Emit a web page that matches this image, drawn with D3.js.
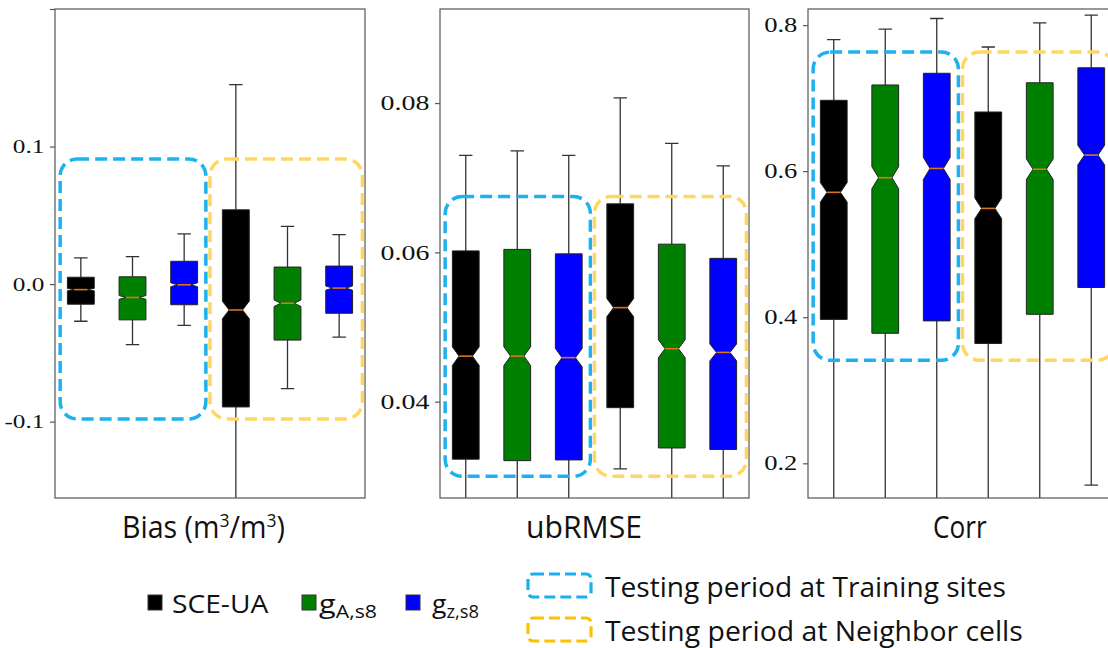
<!DOCTYPE html>
<html lang="en">
<head>
<meta charset="UTF-8">
<title>Bias / ubRMSE / Corr boxplots</title>
<script src="https://d3js.org/d3.v7.min.js"></script>
<style>
    body { margin: 0; background: #fff; }
    .frame { fill: none; stroke: #555; stroke-width: 1.2px; }
    .tick line { stroke: #555; stroke-width: 1.2px; }
    .lbl { font-family: "Open Sans", "Noto Sans", sans-serif; fill: #111; }
</style>
</head>
<body>
<script>
    // box order: SCE-UA, gA,s8, gz,s8 at training sites, then the same at neighbor cells
    const methods = ["SCE-UA", "gA,s8", "gz,s8"];
    const periods = ["Testing period at Training sites", "Testing period at Neighbor cells"];
    const metricNames = ["Bias (m3/m3)", "ubRMSE", "Corr"];

    const biasLo  = [-0.027, -0.044, -0.030, -0.250, -0.076, -0.0385];
    const biasQ1  = [-0.0146, -0.026, -0.015, -0.0893, -0.0407, -0.0212];
    const biasMed = [-0.004, -0.0097, -0.0005, -0.0188, -0.0139, -0.0029];
    const biasQ3  = [0.005, 0.0053, 0.0166, 0.054, 0.0124, 0.0131];
    const biasHi  = [0.019, 0.020, 0.0365, 0.145, 0.042, 0.036];

    const rmseLo  = [0.020, 0.020, 0.020, 0.031, 0.018, 0.018];
    const rmseQ1  = [0.0323, 0.0321, 0.0322, 0.0392, 0.0338, 0.0336];
    const rmseMed = [0.0461, 0.0461, 0.0459, 0.0526, 0.0471, 0.0466];
    const rmseQ3  = [0.0602, 0.0604, 0.0598, 0.0665, 0.0611, 0.0592];
    const rmseHi  = [0.0730, 0.0736, 0.0730, 0.0807, 0.0746, 0.0716];

    const corrLo  = [0.05, 0.05, 0.05, 0.05, 0.05, 0.170];
    const corrQ1  = [0.397, 0.378, 0.395, 0.364, 0.404, 0.4407];
    const corrMed = [0.571, 0.591, 0.6037, 0.549, 0.6027, 0.622];
    const corrQ3  = [0.697, 0.718, 0.734, 0.681, 0.721, 0.7415];
    const corrHi  = [0.780, 0.7945, 0.809, 0.770, 0.803, 0.8137];

    const sampleCount = 1250;   // used for the notch size (matplotlib style)

    // axis ranges and ticks
    const biasDomain = [-0.1555, 0.2], biasTicks = [-0.1, 0, 0.1, 0.2], biasTickLabels = ["-0.1", "0.0", "0.1", ""];
    const rmseDomain = [0.0271, 0.0926], rmseTicks = [0.04, 0.06, 0.08], rmseTickLabels = ["0.04", "0.06", "0.08"];
    const corrDomain = [0.1525, 0.822], corrTicks = [0.2, 0.4, 0.6, 0.8], corrTickLabels = ["0.2", "0.4", "0.6", "0.8"];

    // dashed group outlines, value range on the y axis
    const biasGroupY = [-0.098, 0.091];
    const rmseGroupY = [0.0300, 0.0675];
    const corrGroupY = [0.341, 0.763];
    const groupSlots = [[0.6, 3.42], [3.5, 6.45]];

    const boxColors = ["#000000", "#008000", "#0000ff"];
    const groupColors = ["#1cb1ef", "#ffd760"];
    const legendGroupColors = ["#1ab0f0", "#ffc000"];

    const W = 1108, H = 648;
    const plotTop = 9, plotBottom = 498;
    const boxW = 0.52;

    const panels = [
        { x0: 55, x1: 365, lo: biasLo, q1: biasQ1, med: biasMed, q3: biasQ3, hi: biasHi,
          domain: biasDomain, ticks: biasTicks, tickLabels: biasTickLabels, groupY: biasGroupY, fs: 19 },
        { x0: 440, x1: 749, lo: rmseLo, q1: rmseQ1, med: rmseMed, q3: rmseQ3, hi: rmseHi,
          domain: rmseDomain, ticks: rmseTicks, tickLabels: rmseTickLabels, groupY: rmseGroupY, fs: 21 },
        { x0: 808, x1: 1117, lo: corrLo, q1: corrQ1, med: corrMed, q3: corrQ3, hi: corrHi,
          domain: corrDomain, ticks: corrTicks, tickLabels: corrTickLabels, groupY: corrGroupY, fs: 20 }
    ];

    const svg = d3.select("body").append("svg")
        .attr("width", W)
        .attr("height", H);

    // squeeze / stretch a text to a measured width, keeping its start point
    function fitWidth(sel, x, width) {
        const w = sel.node().getBBox().width;
        sel.attr("transform", `translate(${x},0) scale(${width / w},1) translate(${-x},0)`);
    }

    panels.forEach((p, pi) => {
        const x = d3.scaleLinear().domain([0.5, 6.5]).range([p.x0, p.x1]);
        const y = d3.scaleLinear().domain(p.domain).range([plotBottom, plotTop]);
        const g = svg.append("g");

        g.append("clipPath").attr("id", "clip" + pi)
            .append("rect")
            .attr("x", p.x0).attr("y", plotTop)
            .attr("width", p.x1 - p.x0).attr("height", plotBottom - plotTop);

        const boxes = d3.range(6).map(i => ({
            pos: i + 1, color: boxColors[i % 3],
            lo: p.lo[i], q1: p.q1[i], med: p.med[i], q3: p.q3[i], hi: p.hi[i]
        }));

        const inner = g.append("g").attr("clip-path", `url(#clip${pi})`);

        const bx = inner.selectAll("g.box")
            .data(boxes)
            .enter().append("g").attr("class", "box");

        // whiskers and caps
        bx.append("path")
            .attr("d", d => {
                const c = x(d.pos), cw = (x(boxW / 4) - x(0));
                return `M${c},${y(d.q3)}V${y(d.hi)}M${c},${y(d.q1)}V${y(d.lo)}` +
                    `M${c - cw},${y(d.hi)}H${c + cw}M${c - cw},${y(d.lo)}H${c + cw}`;
            })
            .attr("fill", "none")
            .attr("stroke", "#333")
            .attr("stroke-width", 1.3);

        // notched box
        bx.append("path")
            .attr("d", d => {
                const half = x(boxW / 2) - x(0);
                const l = x(d.pos) - half, r = x(d.pos) + half;
                const nl = x(d.pos) - half / 2, nr = x(d.pos) + half / 2;
                const notch = 1.57 * (d.q3 - d.q1) / Math.sqrt(sampleCount);
                const nLo = y(d.med - notch), nHi = y(d.med + notch), m = y(d.med);
                return `M${l},${y(d.q1)}L${l},${nLo}L${nl},${m}L${l},${nHi}L${l},${y(d.q3)}` +
                    `L${r},${y(d.q3)}L${r},${nHi}L${nr},${m}L${r},${nLo}L${r},${y(d.q1)}Z`;
            })
            .attr("fill", d => d.color)
            .attr("stroke", "#222")
            .attr("stroke-width", 1);

        // median
        bx.append("line")
            .attr("x1", d => x(d.pos - boxW / 4))
            .attr("x2", d => x(d.pos + boxW / 4))
            .attr("y1", d => y(d.med))
            .attr("y2", d => y(d.med))
            .attr("stroke", "#dc7418")
            .attr("stroke-width", 1.6);

        g.append("rect")
            .attr("class", "frame")
            .attr("x", p.x0).attr("y", plotTop)
            .attr("width", p.x1 - p.x0).attr("height", plotBottom - plotTop);

        const ax = g.append("g")
            .attr("transform", `translate(${p.x0},0)`)
            .call(d3.axisLeft(y)
                .tickValues(p.ticks)
                .tickFormat((d, i) => p.tickLabels[i])
                .tickSize(5)
                .tickPadding(3));
        ax.select(".domain").remove();
        ax.attr("font-family", "'Liberation Serif', 'DejaVu Serif', serif")
            .attr("font-size", p.fs);
        ax.selectAll(".tick text")
            .attr("fill", "#111")
            .attr("transform", "scale(1.33,1)");

        // dashed outlines of the two testing groups
        g.selectAll("rect.grp")
            .data(groupSlots)
            .enter().append("rect")
            .attr("class", "grp")
            .attr("x", d => x(d[0]))
            .attr("width", d => x(d[1]) - x(d[0]))
            .attr("y", y(p.groupY[1]))
            .attr("height", y(p.groupY[0]) - y(p.groupY[1]))
            .attr("rx", 17).attr("ry", 17)
            .attr("fill", "none")
            .attr("stroke", (d, i) => groupColors[i])
            .attr("stroke-width", 3.5)
            .attr("stroke-dasharray", "12,6");
    });

    // metric labels under the panels
    const labelX = [122, 526, 933];
    const labelW = [163, 116, 54];
    metricNames.forEach((name, i) => {
        const t = svg.append("text").attr("class", "lbl")
            .attr("x", labelX[i]).attr("y", 538)
            .style("font-size", "31px");
        if (i === 0) {
            t.append("tspan").text("Bias (m");
            t.append("tspan").text("3").attr("dy", -11).style("font-size", "19px");
            t.append("tspan").text("/m").attr("dy", 11);
            t.append("tspan").text("3").attr("dy", -11).style("font-size", "19px");
            t.append("tspan").text(")").attr("dy", 11);
        } else {
            t.text(name);
        }
        fitWidth(t, labelX[i], labelW[i]);
    });

    // legend: methods
    const legSquareX = [148, 302, 406];
    const legTextX = [172, 319, 432];
    const legTextW = [97, 58, 47];
    methods.forEach((m, i) => {
        svg.append("rect")
            .attr("x", legSquareX[i]).attr("y", 595)
            .attr("width", 14).attr("height", 15)
            .attr("fill", boxColors[i])
            .attr("stroke", "#333").attr("stroke-width", 1);
        const t = svg.append("text").attr("class", "lbl")
            .attr("x", legTextX[i]).attr("y", 613)
            .style("font-size", "26px");
        if (i === 0) {
            t.text(m);
        } else {
            t.append("tspan").text("g");
            t.append("tspan").text(m.slice(1)).attr("dy", 5).style("font-size", "18px");
        }
        fitWidth(t, legTextX[i], legTextW[i]);
    });

    // legend: groups
    const grpY = [574, 618];
    const grpTextW = [401, 418];
    periods.forEach((lab, i) => {
        svg.append("rect")
            .attr("x", 528).attr("y", grpY[i])
            .attr("width", 63).attr("height", 23)
            .attr("rx", 5).attr("ry", 5)
            .attr("fill", "none")
            .attr("stroke", legendGroupColors[i])
            .attr("stroke-width", 3.2)
            .attr("stroke-dasharray", "11,5");
        const t = svg.append("text").attr("class", "lbl")
            .attr("x", 605).attr("y", grpY[i] + 23)
            .style("font-size", "28px")
            .text(lab);
        fitWidth(t, 605, grpTextW[i]);
    });
</script>
</body>
</html>
